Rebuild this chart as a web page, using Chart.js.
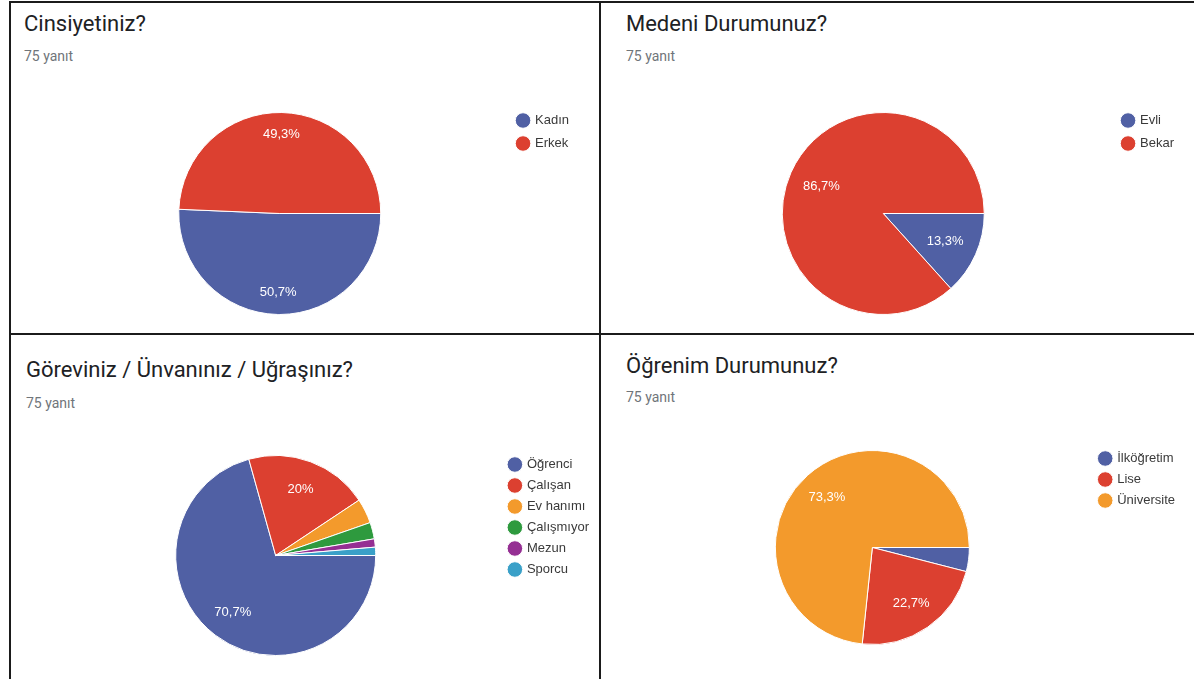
<!DOCTYPE html>
<html lang="tr">
<head>
<meta charset="utf-8">
<script src="https://cdn.jsdelivr.net/npm/chart.js@4.4.0/dist/chart.umd.min.js"></script>
<style>
  body { margin: 0; width: 1194px; height: 679px; background: #fff; position: relative; overflow: hidden; font-family: Roboto, Arial, sans-serif; }
  .line { position: absolute; background: #1b1b1b; z-index: 2; }
  .title { position: absolute; font-size: 22px; line-height: 26px; color: #202124; white-space: nowrap; }
  .sub { position: absolute; font-size: 14px; line-height: 18px; color: #70757a; white-space: nowrap; }
  canvas { position: absolute; }
</style>
</head>
<body>
<div class="title" style="left:24px; top:11px;">Cinsiyetiniz?</div>
<div class="sub" style="left:24px; top:47px;">75 yanıt</div>
<div class="title" style="left:626px; top:11px;">Medeni Durumunuz?</div>
<div class="sub" style="left:626px; top:47px;">75 yanıt</div>
<div class="title" style="left:26px; top:357px;">Göreviniz / Ünvanınız / Uğraşınız?</div>
<div class="sub" style="left:26px; top:394px;">75 yanıt</div>
<div class="title" style="left:626px; top:353px;">Öğrenim Durumunuz?</div>
<div class="sub" style="left:626px; top:388px;">75 yanıt</div>

<canvas id="c1" width="527" height="219" style="left:52px; top:104px;"></canvas>
<canvas id="c2" width="530" height="219" style="left:654px; top:104px;"></canvas>
<canvas id="c3" width="549" height="211" style="left:50px; top:450px;"></canvas>
<canvas id="c4" width="532" height="207" style="left:653px; top:444px;"></canvas>

<div class="line" style="left:9px; top:1px; width:1185px; height:2px;"></div>
<div class="line" style="left:9px; top:1px; width:2px; height:678px;"></div>
<div class="line" style="left:599px; top:1px; width:2px; height:678px;"></div>
<div class="line" style="left:9px; top:333px; width:1185px; height:2px;"></div>

<script>
// answers (75 responses each)
var genderLabels = ['Kadın', 'Erkek'];
var genderCounts = [38, 37];

var maritalLabels = ['Evli', 'Bekar'];
var maritalCounts = [10, 65];

var jobLabels = ['Öğrenci', 'Çalışan', 'Ev hanımı', 'Çalışmıyor', 'Mezun', 'Sporcu'];
var jobCounts = [53, 15, 3, 2, 1, 1];

var eduLabels = ['İlköğretim', 'Lise', 'Üniversite'];
var eduCounts = [3, 17, 55];

var blue = '#5060a4', red = '#dc4030', orange = '#f39a2c',
    green = '#2e9a3e', purple = '#952f93', teal = '#3aa0c8';

var labelFont = "'Liberation Sans', Arial, sans-serif";

// white % text inside the bigger slices, like google forms
var percentLabels = {
  id: 'percentLabels',
  afterDatasetsDraw: function(chart, args, opts) {
    var ctx = chart.ctx;
    var data = chart.data.datasets[0].data;
    var total = data.reduce(function(a, b) { return a + b; }, 0);
    chart.getDatasetMeta(0).data.forEach(function(arc, i) {
      var pct = data[i] / total * 100;
      if (pct < 10) return;
      var p = arc.getProps(['x', 'y', 'startAngle', 'endAngle', 'outerRadius'], true);
      var mid = (p.startAngle + p.endAngle) / 2;
      var d = p.outerRadius * opts.pos;
      ctx.save();
      ctx.fillStyle = '#fff';
      ctx.font = '13px ' + labelFont;
      ctx.textAlign = 'center';
      ctx.textBaseline = 'middle';
      ctx.fillText(String(+pct.toFixed(1)).replace('.', ',') + '%', p.x + Math.cos(mid) * d, p.y + Math.sin(mid) * d);
      ctx.restore();
    });
  }
};

function makePie(id, labels, counts, colors, radius, legendPad, labelPos) {
  return new Chart(document.getElementById(id), {
    type: 'pie',
    data: {
      labels: labels,
      datasets: [{
        data: counts,
        backgroundColor: colors,
        borderColor: '#fff',
        borderWidth: 1,
        radius: radius
      }]
    },
    options: {
      responsive: false,
      animation: false,
      rotation: 90,
      layout: { padding: 0 },
      plugins: {
        legend: {
          position: 'right',
          align: 'start',
          labels: {
            usePointStyle: true,
            pointStyle: 'circle',
            boxWidth: 11,
            boxHeight: 11,
            padding: legendPad,
            color: '#3a3a3a',
            font: { family: labelFont, size: 13 }
          }
        },
        tooltip: { enabled: false },
        percentLabels: { pos: labelPos }
      }
    },
    plugins: [percentLabels]
  });
}

makePie('c1', genderLabels, genderCounts, [blue, red], 101, 10, 0.78);
makePie('c2', maritalLabels, maritalCounts, [blue, red], 101, 10, 0.67);
makePie('c3', jobLabels, jobCounts, [blue, red, orange, green, purple, teal], 100, 8, 0.71);
makePie('c4', eduLabels, eduCounts, [blue, red, orange], 97, 8, 0.7);
</script>
</body>
</html>
